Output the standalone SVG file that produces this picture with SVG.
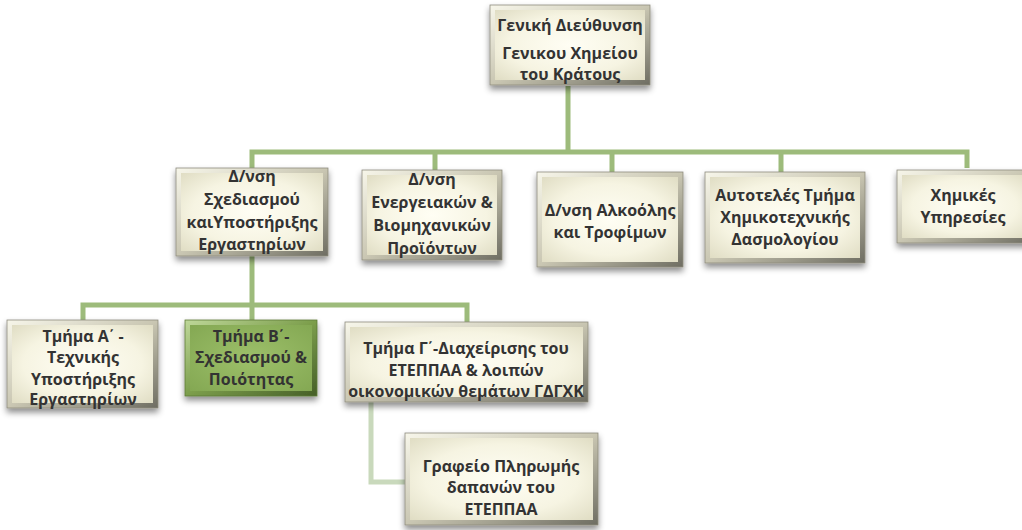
<svg xmlns="http://www.w3.org/2000/svg" width="1022" height="530" viewBox="0 0 1022 530">
<defs>
<linearGradient id="bev" x1="0" y1="0" x2="1" y2="1">
<stop offset="0" stop-color="#F7F6EA"/>
<stop offset="0.5" stop-color="#C9C6B2"/>
<stop offset="1" stop-color="#6E6D62"/>
</linearGradient>
<radialGradient id="face" cx="0.5" cy="0.5" r="0.7">
<stop offset="0" stop-color="#FFFEF4"/>
<stop offset="0.6" stop-color="#F6F4E2"/>
<stop offset="1" stop-color="#E0DDC4"/>
</radialGradient>
<linearGradient id="bevG" x1="0" y1="0" x2="1" y2="1">
<stop offset="0" stop-color="#BFD89A"/>
<stop offset="0.5" stop-color="#7C9E4C"/>
<stop offset="1" stop-color="#465F28"/>
</linearGradient>
<radialGradient id="faceG" cx="0.5" cy="0.5" r="0.7">
<stop offset="0" stop-color="#9DC06A"/>
<stop offset="1" stop-color="#84A853"/>
</radialGradient>
<filter id="sh" x="-10%" y="-10%" width="125%" height="130%">
<feDropShadow dx="0" dy="4" stdDeviation="3" flood-color="#000" flood-opacity="0.45"/>
</filter>
<style>
.o{fill:url(#bev);stroke:#8E8C7E;stroke-width:0.8;filter:url(#sh)}
.i{fill:url(#face)}
.og{fill:url(#bevG);stroke:#5E7A38;stroke-width:0.8;filter:url(#sh)}
.ig{fill:url(#faceG)}
text{font-family:"Open Sans","Liberation Sans",sans-serif;font-weight:700;font-size:16px;fill:#333333;text-anchor:middle}
.t{font-family:"Liberation Sans",sans-serif}
.c{fill:none;stroke:#9DBB7B;stroke-width:5}
.cl{fill:none;stroke:#C9D9BC;stroke-width:5}
</style>
</defs>
<g id="connectors">
<path class="c" d="M568,86 V152"/>
<path class="c" d="M252,170 V152 H967 V168"/>
<path class="c" d="M435,152 V170"/>
<path class="c" d="M612,152 V172"/>
<path class="c" d="M781,152 V172"/>
<path class="c" d="M252,256 V305"/>
<path class="c" d="M83,320 V305 H467 V322"/>
<path class="c" d="M252,305 V320"/>
<path class="cl" d="M371,402 V482 H405"/>
</g>
<g id="n-top">
<rect class="o" x="490" y="5" width="160" height="80"/>
<rect class="i" x="495" y="10" width="150" height="70"/>
<text x="570" y="31">Γενική Διεύθυνση</text>
<text x="570" y="59">Γενικου Χημείου</text>
<text x="570" y="80">του Κράτους</text>
</g>
<g id="n-schediasmou">
<rect class="o" x="176" y="168" width="152" height="88"/>
<rect class="i" x="181" y="173" width="142" height="78"/>
<text x="252" y="182">Δ/νση</text>
<text x="252" y="205">Σχεδιασμού</text>
<text x="252" y="228">καιΥποστήριξης</text>
<text x="252" y="250">Εργαστηρίων</text>
</g>
<g id="n-energeiakon">
<rect class="o" x="362" y="170" width="140" height="90"/>
<rect class="i" x="367" y="175" width="130" height="80"/>
<text x="432" y="185">Δ/νση</text>
<text x="432" y="208">Ενεργειακών &amp;</text>
<text x="432" y="231">Βιομηχανικών</text>
<text x="432" y="254">Προϊόντων</text>
</g>
<g id="n-alkoolis">
<rect class="o" x="537" y="172" width="146" height="95"/>
<rect class="i" x="542" y="177" width="136" height="85"/>
<text x="610" y="216">Δ/νση Αλκοόλης</text>
<text x="610" y="238">και Τροφίμων</text>
</g>
<g id="n-aftoteles">
<rect class="o" x="705" y="172" width="160" height="91"/>
<rect class="i" x="710" y="177" width="150" height="81"/>
<text x="785" y="201">Αυτοτελές Τμήμα</text>
<text x="785" y="223">Χημικοτεχνικής</text>
<text x="785" y="245">Δασμολογίου</text>
</g>
<g id="n-chimikes">
<rect class="o" x="897" y="170" width="135" height="73"/>
<rect class="i" x="902" y="175" width="125" height="63"/>
<text x="963" y="201">Χημικές</text>
<text x="963" y="223">Υπηρεσίες</text>
</g>
<g id="n-tmima-a">
<rect class="o" x="7" y="320" width="151" height="88"/>
<rect class="i" x="12" y="325" width="141" height="78"/>
<text x="83" y="342">Τμήμα Α<tspan class="t">΄</tspan> -</text>
<text x="83" y="363">Τεχνικής</text>
<text x="83" y="385">Υποστήριξης</text>
<text x="83" y="405">Εργαστηρίων</text>
</g>
<g id="n-tmima-b">
<rect class="og" x="185" y="320" width="132" height="76"/>
<rect class="ig" x="190" y="325" width="122" height="66"/>
<text x="251" y="342">Τμήμα Β<tspan class="t">΄</tspan>-</text>
<text x="251" y="363">Σχεδιασμού &amp;</text>
<text x="251" y="385">Ποιότητας</text>
</g>
<g id="n-tmima-g">
<rect class="o" x="345" y="322" width="243" height="80"/>
<rect class="i" x="350" y="327" width="233" height="70"/>
<text x="466" y="354">Τμήμα Γ<tspan class="t">΄</tspan>-Διαχείρισης του</text>
<text x="466" y="376">ΕΤΕΠΠΑΑ &amp; λοιπών</text>
<text x="466" y="397">οικονομικών θεμάτων ΓΔΓΧΚ</text>
</g>
<g id="n-grafeio">
<rect class="o" x="405" y="433" width="193" height="92"/>
<rect class="i" x="410" y="438" width="183" height="82"/>
<text x="501" y="472">Γραφείο Πληρωμής</text>
<text x="501" y="493">δαπανών του</text>
<text x="501" y="515">ΕΤΕΠΠΑΑ</text>
</g>
</svg>
